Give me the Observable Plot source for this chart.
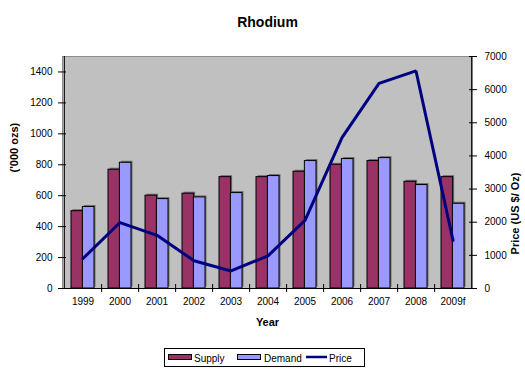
<!DOCTYPE html>
<html>
<head>
<meta charset="utf-8">
<script src="https://cdn.jsdelivr.net/npm/d3@7"></script>
<script src="https://cdn.jsdelivr.net/npm/@observablehq/plot@0.6"></script>
<style>
  body { margin: 0; background: #fff; }
  #chart svg { font-family: "Liberation Sans", Arial, sans-serif; }
</style>
</head>
<body>
<div id="chart"></div>
<script>
// Rhodium supply, demand ('000 oz) and average price (US$/oz)
const years  = ["1999", "2000", "2001", "2002", "2003", "2004", "2005", "2006", "2007", "2008", "2009f"];
const supply = [500, 768, 600, 613, 720, 720, 755, 800, 824, 690, 720];
const demand = [527, 813, 578, 589, 617, 727, 824, 837, 843, 669, 548];
const price  = [904, 1990, 1604, 838, 530, 986, 2056, 4552, 6190, 6564, 1450];

const seriesNames = ["Supply", "Demand", "Price"];
const seriesColors = ["#993366", "#9999ff", "#000080"];

const volumeTicks = [0, 200, 400, 600, 800, 1000, 1200, 1400];
const priceTicks = [0, 1000, 2000, 3000, 4000, 5000, 6000, 7000];

const W = 525, H = 370;
const mL = 62, mR = 53, mT = 56, mB = 82;
const volumeMax = 1500, priceMax = 7000;
const k = volumeMax / priceMax;            // price -> left-axis units
const step = (W - mL - mR) / years.length; // width of one year band
const barPair = step * 0.61;               // width of the supply+demand pair
const half = barPair / 2;
const tickUnits = 4 / ((H - mT - mB) / volumeMax); // ~4px in volume units

const rows = years.map((year, i) => ({
  year, supply: supply[i], demand: demand[i], price: price[i] * k
}));

const plot = Plot.plot({
  width: W, height: H,
  marginLeft: mL, marginRight: mR, marginTop: mT, marginBottom: mB,
  style: { fontFamily: "'Liberation Sans', Arial, sans-serif", fontSize: "10px", color: "#000", background: "#fff" },
  x: { type: "band", domain: years, paddingInner: 0.39, paddingOuter: 0.195, axis: null },
  y: { domain: [0, volumeMax], axis: null },
  marks: [
    Plot.frame({ fill: "#c0c0c0", stroke: "#8c8c8c" }),
    // soft drop shadows behind the bars
    Plot.barY(rows, { x: "year", y: "supply", insetRight: half, fill: "#6e6e6e", dx: 1.5, dy: -1.5 }),
    Plot.barY(rows, { x: "year", y: "demand", insetLeft: half, fill: "#6e6e6e", dx: 1.5, dy: -1.5 }),
    Plot.barY(rows, { x: "year", y: "supply", insetRight: half, fill: seriesColors[0], stroke: "#000", strokeWidth: 1 }),
    Plot.barY(rows, { x: "year", y: "demand", insetLeft: half, fill: seriesColors[1], stroke: "#000", strokeWidth: 1 }),
    Plot.line(rows, { x: "year", y: "price", stroke: seriesColors[2], strokeWidth: 3, strokeLinejoin: "miter" }),
    // axis lines
    Plot.ruleY([0], { stroke: "#000" }),
    Plot.ruleX([years[0]], { dx: -step / 2, stroke: "#000" }),
    Plot.ruleX([years[years.length - 1]], { dx: step / 2, stroke: "#000" }),
    // category separators on the x axis
    Plot.ruleX(years.slice(0, -1), { dx: step / 2, y1: -tickUnits, y2: tickUnits, stroke: "#000" }),
    // left axis: volume
    Plot.axisY(volumeTicks, { anchor: "left", tickSize: 8, dx: 4, tickPadding: 6, tickFormat: d => String(d), label: null }),
    // right axis: price
    Plot.axisY(priceTicks.map(v => v * k), { anchor: "right", tickSize: 8, dx: -4, tickPadding: 8, tickFormat: d => String(Math.round(d / k)), label: null }),
    Plot.axisX({ tickSize: 0, tickPadding: 9, label: null }),
    // titles
    Plot.text(["Rhodium"], { frameAnchor: "top", dy: -39, fontSize: 14, fontWeight: "bold" }),
    Plot.text(["Year"], { frameAnchor: "bottom", dy: 37, fontSize: 11, fontWeight: "bold" }),
    Plot.text(["('000 ozs)"], { frameAnchor: "left", dx: -48, rotate: -90, fontSize: 11, fontWeight: "bold" }),
    Plot.text(["Price (US $/ Oz)"], { frameAnchor: "right", dx: 43, rotate: -90, fontSize: 11, fontWeight: "bold" })
  ]
});

// legend box below the plot
const svg = d3.select(plot);
const lg = svg.append("g")
  .attr("font-size", 10)
  .attr("font-family", "'Liberation Sans', Arial, sans-serif")
  .attr("text-anchor", "start");
lg.append("rect").attr("x", 164.5).attr("y", 348.5).attr("width", 200).attr("height", 18)
  .attr("fill", "#fff").attr("stroke", "#000");
const items = [
  { x: 168, kind: "bar", tx: 194 },
  { x: 237, kind: "bar", tx: 264 },
  { x: 306, kind: "line", tx: 329 }
];
items.forEach((it, i) => {
  if (it.kind === "bar") {
    lg.append("rect").attr("x", it.x + 0.5).attr("y", 354.5).attr("width", 23).attr("height", 5)
      .attr("fill", seriesColors[i]).attr("stroke", "#000");
  } else {
    lg.append("line").attr("x1", it.x).attr("x2", it.x + 21).attr("y1", 357).attr("y2", 357)
      .attr("stroke", seriesColors[i]).attr("stroke-width", 2.5);
  }
  lg.append("text").attr("x", it.tx).attr("y", 361.5).attr("fill", "#000").text(seriesNames[i]);
});

document.getElementById("chart").append(plot);
</script>
</body>
</html>
